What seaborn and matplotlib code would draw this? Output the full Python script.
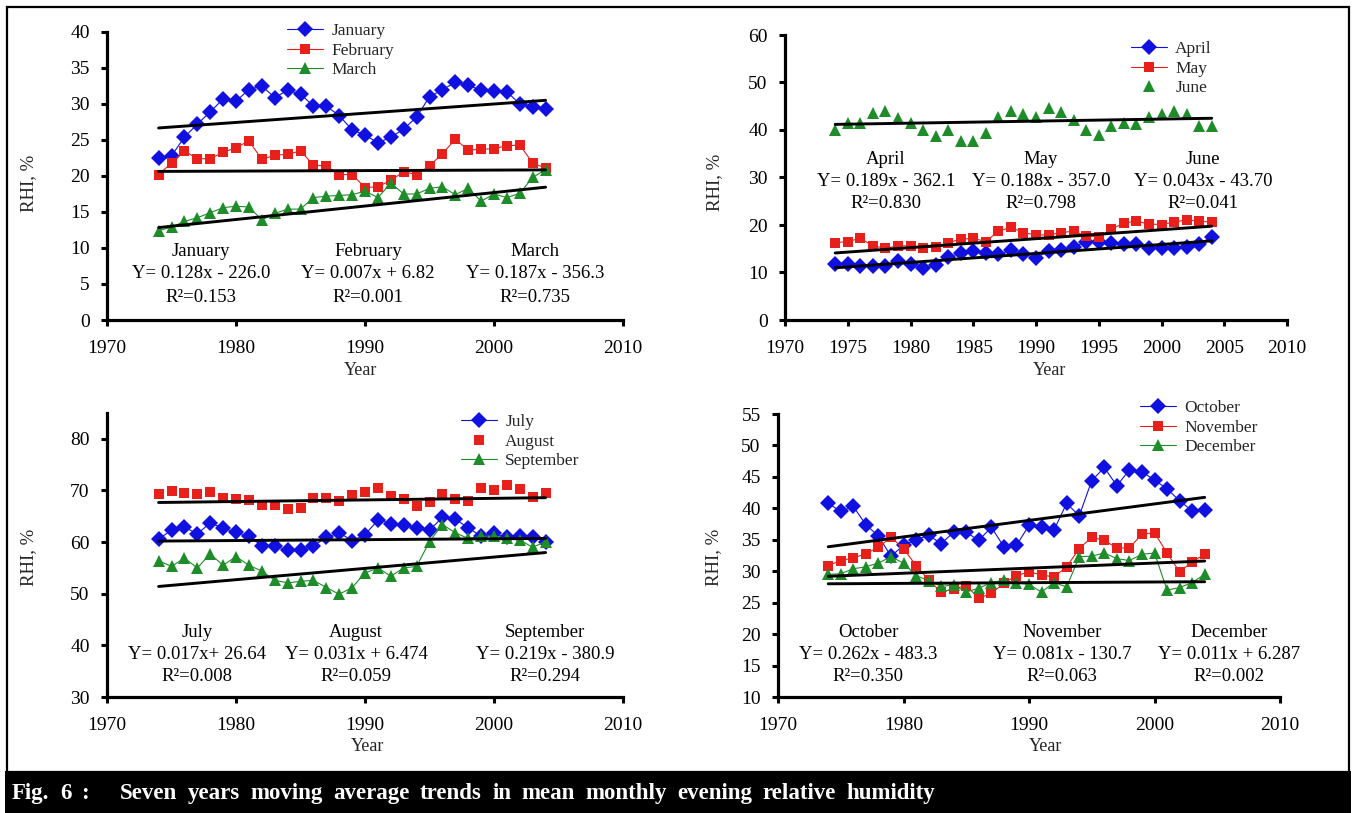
import matplotlib
matplotlib.use("Agg")
import matplotlib.pyplot as plt
import seaborn as sns
import numpy as np
from matplotlib.patches import Rectangle

# ---- data: seven-year moving averages of evening relative humidity (%) ----
years = list(range(1974, 2005))

jan = [22.5, 22.8, 25.4, 27.2, 28.9, 30.7, 30.4, 32.0, 32.5, 30.9, 31.9, 31.4, 29.7, 29.7, 28.4, 26.4,
       25.7, 24.6, 25.4, 26.5, 28.2, 31.0, 32.0, 33.0, 32.6, 31.9, 31.8, 31.7, 30.0, 29.6, 29.3]
feb = [20.2, 21.8, 23.5, 22.4, 22.4, 23.3, 23.9, 24.9, 22.3, 22.9, 23.0, 23.5, 21.5, 21.4, 20.2, 20.2,
       18.4, 18.5, 19.4, 20.6, 20.2, 21.4, 23.1, 25.1, 23.6, 23.7, 23.8, 24.2, 24.3, 21.8, 21.1]
mar = [12.4, 12.9, 13.7, 14.2, 14.9, 15.6, 15.8, 15.7, 13.9, 14.8, 15.4, 15.4, 17.0, 17.2, 17.3, 17.4,
       17.9, 17.0, 19.0, 17.5, 17.5, 18.3, 18.5, 17.4, 18.3, 16.5, 17.5, 17.0, 17.6, 19.8, 20.9]
apr = [11.7, 11.7, 11.3, 11.3, 11.3, 12.4, 11.8, 11.0, 11.6, 13.3, 14.0, 14.5, 14.0, 13.8, 14.7, 13.8,
       13.1, 14.5, 14.7, 15.4, 16.5, 16.5, 16.3, 16.1, 16.0, 15.2, 15.2, 15.2, 15.4, 16.1, 17.4]
may = [16.3, 16.5, 17.2, 15.6, 15.1, 15.6, 15.6, 15.2, 15.4, 16.3, 17.0, 17.2, 16.5, 18.7, 19.5, 18.4,
       17.9, 17.9, 18.4, 18.7, 17.7, 17.5, 19.1, 20.4, 20.8, 20.2, 20.1, 20.6, 21.1, 20.8, 20.6]
jun = [40.0, 41.5, 41.4, 43.5, 44.1, 42.6, 41.4, 40.1, 38.7, 40.0, 37.7, 37.7, 39.3, 42.7, 44.1, 43.4,
       42.8, 44.6, 43.7, 42.1, 40.1, 38.9, 40.8, 41.4, 41.3, 42.7, 43.4, 43.9, 43.4, 40.8, 40.8]
jul = [60.6, 62.3, 62.9, 61.6, 63.7, 62.7, 61.9, 61.1, 59.3, 59.3, 58.4, 58.4, 59.3, 60.9, 61.8, 60.3,
       61.4, 64.3, 63.6, 63.3, 62.8, 62.3, 64.8, 64.4, 62.8, 61.1, 61.7, 60.9, 61.1, 60.9, 60.1]
aug = [69.4, 69.9, 69.6, 69.4, 69.7, 68.6, 68.3, 68.1, 67.1, 67.1, 66.5, 66.6, 68.5, 68.6, 67.9, 69.2,
       69.7, 70.5, 68.9, 68.3, 66.9, 67.8, 69.4, 68.3, 67.9, 70.5, 70.0, 71.0, 70.3, 68.7, 69.6]
sep = [56.4, 55.3, 56.9, 55.0, 57.7, 55.5, 57.2, 55.5, 54.4, 52.6, 52.1, 52.4, 52.6, 51.2, 49.9, 51.2,
       54.0, 55.0, 53.4, 55.0, 55.3, 60.1, 63.4, 61.8, 60.7, 61.1, 61.2, 60.7, 60.4, 59.0, 60.1]
oct_ = [40.8, 39.5, 40.3, 37.4, 35.6, 32.4, 34.1, 35.0, 35.7, 34.4, 36.2, 36.2, 34.9, 37.0, 33.9, 34.1,
        37.3, 37.0, 36.6, 40.8, 38.8, 44.4, 46.5, 43.6, 46.1, 45.8, 44.5, 43.1, 41.2, 39.6, 39.8]
nov = [30.9, 31.7, 32.1, 32.8, 33.8, 35.4, 33.6, 30.9, 28.6, 26.7, 27.2, 27.7, 25.7, 26.5, 28.1, 29.3,
       29.9, 29.4, 29.1, 30.7, 33.6, 35.4, 34.9, 33.7, 33.7, 35.9, 36.1, 32.9, 29.9, 31.5, 32.7]
dec = [29.5, 29.6, 30.4, 30.7, 31.3, 32.3, 31.3, 29.3, 28.5, 27.6, 27.8, 26.7, 27.3, 28.2, 28.6, 28.1,
       27.9, 26.7, 28.2, 27.5, 32.3, 32.4, 32.9, 32.0, 31.7, 32.7, 32.9, 27.0, 27.4, 28.2, 29.5]

month_names = ["January", "February", "March", "April", "May", "June",
               "July", "August", "September", "October", "November", "December"]
month_values = [jan, feb, mar, apr, may, jun, jul, aug, sep, oct_, nov, dec]

# linear trend coefficients (slope, intercept) and goodness of fit
slopes = [0.128, 0.007, 0.187, 0.189, 0.188, 0.043, 0.017, 0.031, 0.219, 0.262, 0.081, 0.011]
intercepts = [-226.0, 6.82, -356.3, -362.1, -357.0, -43.70, 26.64, 6.474, -380.9, -483.3, -130.7, 6.287]
eq_labels = ["Y= 0.128x - 226.0", "Y= 0.007x + 6.82", "Y= 0.187x - 356.3",
             "Y= 0.189x - 362.1", "Y= 0.188x - 357.0", "Y= 0.043x - 43.70",
             "Y= 0.017x+ 26.64", "Y= 0.031x + 6.474", "Y= 0.219x - 380.9",
             "Y= 0.262x - 483.3", "Y= 0.081x - 130.7", "Y= 0.011x + 6.287"]
r2_labels = ["0.153", "0.001", "0.735", "0.830", "0.798", "0.041",
             "0.008", "0.059", "0.294", "0.350", "0.063", "0.002"]

caption_words = ["Fig.", "6", ":", "Seven", "years", "moving", "average", "trends", "in", "mean",
                 "monthly", "evening", "relative", "humidity"]

# ---- styling ----
sns.set_style("ticks")
plt.rcParams["font.family"] = ["Liberation Serif", "DejaVu Serif"]

W, H = 1356, 813
fig = plt.figure(figsize=(W / 100, H / 100), dpi=100)
fig.patch.set_facecolor("white")


def fx(px):
    return px / W


def fy(py):
    return 1 - py / H


BLUE, RED, GREEN = "#1010E0", "#E8201C", "#1E8C28"
series_style = [
    dict(color=BLUE, marker="D", ms=7.8),
    dict(color=RED, marker="s", ms=7.6),
    dict(color=GREEN, marker="^", ms=9.2),
]

# panel geometry in pixels: left, right, top, bottom
panels = [
    dict(box=(107, 623, 32, 320), ylim=(0, 40), yticks=np.arange(0, 41, 5), xstep=10,
         lines=[True, True, True], legend=(287, 23), ann_x=[201, 368, 535], ann_y=[252, 274, 297],
         ylab=(37, 183), xlab=(361, 370)),
    dict(box=(785, 1287, 35, 320), ylim=(0, 60), yticks=np.arange(0, 61, 10), xstep=5,
         lines=[True, True, False], legend=(1131, 41), ann_x=[886, 1041, 1203], ann_y=[159, 182, 204],
         ylab=(723, 182), xlab=(1050, 370)),
    dict(box=(107, 623, 413, 697), ylim=(30, 85), yticks=np.arange(30, 81, 10), xstep=10,
         lines=[True, False, True], legend=(461, 414), ann_x=[197, 356, 545], ann_y=[632, 654, 676],
         ylab=(37, 557), xlab=(368, 746)),
    dict(box=(778, 1280, 414, 697), ylim=(10, 55), yticks=np.arange(10, 56, 5), xstep=10,
         lines=[True, True, True], legend=(1140, 400), ann_x=[868, 1062, 1229], ann_y=[632, 654, 676],
         ylab=(722, 557), xlab=(1046, 746)),
]

years_arr = np.array(years)

for p_i, p in enumerate(panels):
    left, right, top, bottom = p["box"]
    ax = fig.add_axes([fx(left), fy(bottom), (right - left) / W, (bottom - top) / H])
    ax.set_facecolor("white")
    handles = []
    for k in range(3):
        m = p_i * 3 + k
        st = series_style[k]
        vals = month_values[m]
        sns.lineplot(x=years, y=vals, ax=ax, color=st["color"],
                     linewidth=0.8 if p["lines"][k] else 0,
                     marker=st["marker"], markersize=st["ms"], markeredgewidth=0,
                     markerfacecolor=st["color"], zorder=3, legend=False)
        ln = ax.lines[-1]
        if not p["lines"][k]:
            ln.set_linestyle("none")
        handles.append(ln)
    for k in range(3):
        m = p_i * 3 + k
        trend = slopes[m] * years_arr + intercepts[m]
        sns.lineplot(x=years_arr, y=trend, ax=ax, color="black", linewidth=2.1,
                     zorder=4, legend=False)

    ax.set_xlim(1970, 2010)
    ax.set_ylim(*p["ylim"])
    ax.set_xticks(np.arange(1970, 2011, p["xstep"]))
    ax.set_yticks(p["yticks"])
    sns.despine(ax=ax)
    for side in ("left", "bottom"):
        ax.spines[side].set_linewidth(2.3)
        ax.spines[side].set_color("black")
    ax.tick_params(axis="both", direction="out", length=4.5, width=2.2, colors="black",
                   labelsize=14)
    ax.tick_params(axis="x", pad=10)
    ax.tick_params(axis="y", pad=8)

    ax.set_xlabel("Year", fontsize=13, va="center")
    ax.set_ylabel("RHI, %", fontsize=13.5)
    lx, ly = p["ylab"]
    ax.yaxis.set_label_coords((lx - left) / (right - left), (bottom - ly) / (bottom - top))
    xlx, xly = p["xlab"]
    ax.xaxis.set_label_coords((xlx - left) / (right - left), (bottom - xly) / (bottom - top))

    # trend equation annotations
    for k in range(3):
        m = p_i * 3 + k
        xa = (p["ann_x"][k] - left) / (right - left)
        rows = [month_names[m], eq_labels[m], "R\u00b2=" + r2_labels[m]]
        for row, py in zip(rows, p["ann_y"]):
            ax.text(xa, (bottom - py) / (bottom - top), row, transform=ax.transAxes,
                    ha="center", va="center", fontsize=13.5, color="black", zorder=5)

    lgx, lgy = p["legend"]
    ax.legend(handles, month_names[p_i * 3:p_i * 3 + 3], loc="upper left",
              bbox_to_anchor=(fx(lgx), fy(lgy)), bbox_transform=fig.transFigure,
              frameon=False, borderpad=0, borderaxespad=0, handlelength=2.1,
              handletextpad=0.45, labelspacing=0.2, fontsize=12.5)

# outer frame and caption band
fig.add_artist(Rectangle((fx(7), fy(772)), (1349 - 7) / W, (772 - 7) / H,
                         transform=fig.transFigure, fill=False, edgecolor="black", linewidth=1.6))
fig.add_artist(Rectangle((fx(5), 0), (1351 - 5) / W, fy(771),
                         transform=fig.transFigure, facecolor="black", edgecolor="none"))

# caption words spread across the band
renderer = fig.canvas.get_renderer()
cap_texts = [fig.text(0, fy(793), w, color="white", fontsize=16.5, fontweight="bold",
                      ha="left", va="center") for w in caption_words]
widths = [t.get_window_extent(renderer).width for t in cap_texts]
gap_weights = [1.0] * (len(caption_words) - 1)
gap_weights[2] = 3.0  # wider gap after "Fig. 6 :"
x_start, x_end = 12.0, 935.0
unit = (x_end - x_start - sum(widths)) / sum(gap_weights)
x = x_start
for i, t in enumerate(cap_texts):
    t.set_x(fx(x))
    x += widths[i]
    if i < len(gap_weights):
        x += unit * gap_weights[i]

fig.savefig("out.png", dpi=100, facecolor="white")
